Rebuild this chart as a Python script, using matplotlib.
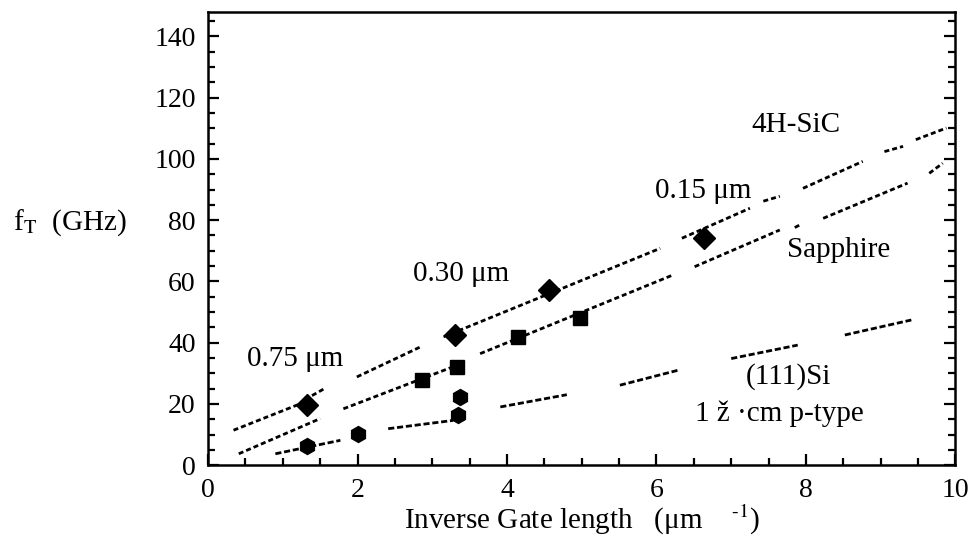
import numpy as np
import matplotlib
matplotlib.use("Agg")
import matplotlib.pyplot as plt
from matplotlib.ticker import MultipleLocator

plt.rcParams['font.family'] = ['Liberation Serif', 'DejaVu Serif']
plt.rcParams['mathtext.fontset'] = 'stix'

# measured points (inverse gate length in 1/um, fT in GHz)
sic_x = [1.32, 3.31, 4.56, 6.63]
sic_y = [19.5, 42.4, 57.2, 74.1]
sapph_x = [2.86, 3.33, 4.15, 4.98]
sapph_y = [27.7, 32.1, 41.9, 47.9]
si_x = [1.32, 2.01, 3.35, 3.37]
si_y = [6.4, 10.2, 16.3, 22.3]

# fit lines, drawn as broken pieces like in the scan: (x0, y0, x1, y1)
sic_fit = [(0.34, 11.4, 1.24, 20.1), (1.39, 22.7, 1.55, 24.9), (1.99, 28.8, 2.84, 38.6),
           (3.15, 41.9, 6.05, 70.8), (6.34, 74.1, 7.25, 83.9), (7.43, 86.2, 7.65, 87.8),
           (7.96, 90.4, 8.76, 99.2), (9.05, 102.4, 9.30, 104.1), (9.47, 106.3, 9.88, 110.1)]
sapph_fit = [(0.41, 3.7, 1.50, 15.2), (1.81, 18.4, 3.33, 32.6), (3.64, 36.4, 6.22, 62.1),
             (6.51, 64.8, 7.65, 76.8), (7.85, 77.6, 7.94, 78.7), (8.23, 80.6, 9.36, 92.1),
             (9.65, 95.3, 9.83, 98.6)]
si_fit = [(0.90, 3.7, 1.77, 8.1), (2.41, 11.9, 3.28, 14.6), (3.91, 19.0, 4.80, 23.0),
          (5.51, 26.1, 6.29, 31.0), (7.00, 34.8, 7.89, 39.2), (8.52, 42.5, 9.41, 47.4)]

# annotations: (text, x, y)
labels = [("4H-SiC", 7.87, 111.2), ("0.15 μm", 6.62, 89.4), ("Sapphire", 8.44, 70.4),
          ("0.30 μm", 3.38, 62.5), ("0.75 μm", 1.16, 34.7), ("(111)Si", 7.76, 28.8),
          ("1 ž ·cm p-type", 7.65, 16.8)]

fig = plt.figure(figsize=(9.68, 5.44), dpi=100)
ax = fig.add_axes([0.215, 0.145, 0.772, 0.833])

for segs, dash in ((sic_fit, (1.8, 1.1)), (sapph_fit, (1.8, 1.1)), (si_fit, (2.2, 1.0))):
    for x0, y0, x1, y1 in segs:
        ax.plot([x0, x1], [y0, y1], color='black', lw=2.0, dashes=dash)

ax.plot(sic_x, sic_y, 'D', color='black', ms=11, ls='none')
ax.plot(sapph_x, sapph_y, 's', color='black', ms=10, ls='none')
ax.plot(si_x, si_y, 'h', color='black', ms=11.5, ls='none')

for txt, x, y in labels:
    ax.text(x, y, txt, fontsize=21, ha='center', va='center')

ax.set_xlim(0, 10)
ax.set_ylim(0, 148)
ax.xaxis.set_major_locator(MultipleLocator(2))
ax.xaxis.set_minor_locator(MultipleLocator(0.5))
ax.yaxis.set_minor_locator(MultipleLocator(5))
ax.set_yticks([0, 20, 40, 60, 80, 100, 120, 140])
ax.tick_params(which='both', direction='in', top=False, right=True, width=1.6, labelsize=20)
ax.tick_params(which='major', length=8, pad=9)
ax.tick_params(which='minor', length=5)
for sp in ax.spines.values():
    sp.set_linewidth(1.8)

ax.set_xlabel("Inverse Gate length   (μm    $^{\\text{-1}}$)", fontsize=21, labelpad=0)
fig.text(0.072, 0.59, "f$_{\\rm T}$  (GHz)", fontsize=21, ha='center', va='center')

fig.savefig("out.png", dpi=100)
